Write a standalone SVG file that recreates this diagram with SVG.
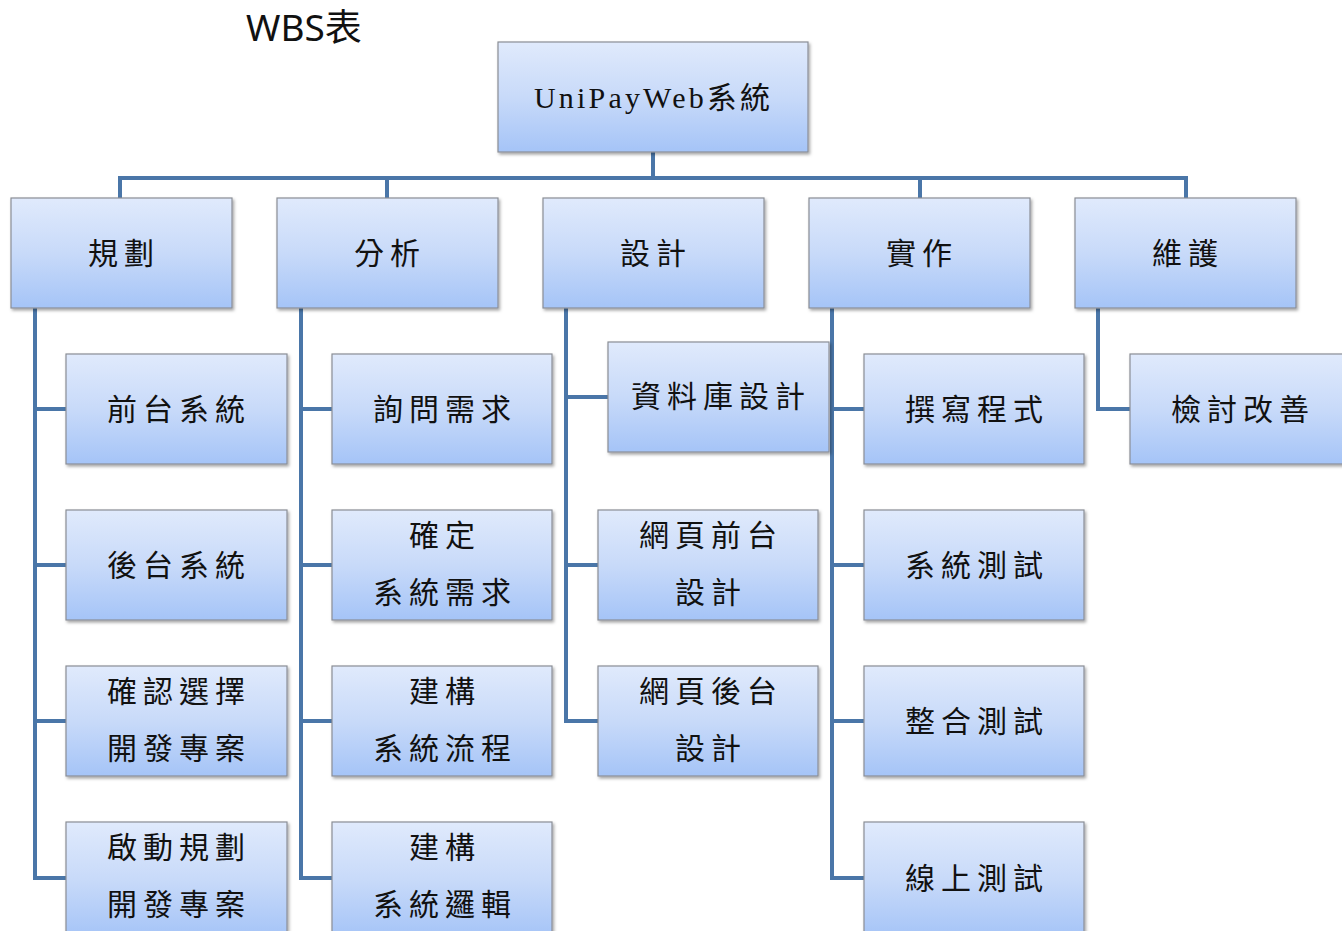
<svg xmlns="http://www.w3.org/2000/svg" width="1342" height="931" viewBox="0 0 1342 931">
<defs>
<linearGradient id="g" x1="0" y1="0" x2="0" y2="1">
<stop offset="0" stop-color="#e0eafc"/>
<stop offset="0.5" stop-color="#c8daf9"/>
<stop offset="1" stop-color="#a5c4f7"/>
</linearGradient>
<filter id="sh" x="-5%" y="-5%" width="115%" height="120%">
<feDropShadow dx="1.5" dy="2" stdDeviation="1.5" flood-color="#000" flood-opacity="0.35"/>
</filter>
<style>
.box{fill:url(#g);stroke:#8a8e96;stroke-width:1.2;filter:url(#sh)}
.t{font-family:"Liberation Serif","Noto Sans CJK TC",serif;font-size:30px;fill:#111;text-anchor:middle;dominant-baseline:central;letter-spacing:6px}
.c{fill:none;stroke:#4a76a8;stroke-width:4}
</style>
</defs>
<text x="246" y="41" font-family="'Noto Sans','Noto Sans CJK TC',sans-serif" font-size="37" fill="#111">WBS表</text>
<g id="connectors">
<path class="c" d="M653 152V178M120 198V178H1186V198M387 178V198M920 178V198"/>
<path class="c" d="M35 308V878H66M35 409H66M35 565H66M35 721H66"/>
<path class="c" d="M301 308V878H332M301 409H332M301 565H332M301 721H332"/>
<path class="c" d="M566 308V721H598M566 397H608M566 565H598"/>
<path class="c" d="M832 308V878H864M832 409H864M832 565H864M832 721H864"/>
<path class="c" d="M1098 308V409H1130"/>
</g>
<g id="root"><rect class="box" x="498" y="42" width="310" height="110"/><text class="t" x="652" y="97" textLength="236" lengthAdjust="spacing" style="letter-spacing:0">UniPayWeb系統</text></g>
<g id="n1"><rect class="box" x="11" y="198" width="221" height="110"/><text class="t" x="124" y="253">規劃</text></g>
<g id="n2"><rect class="box" x="277" y="198" width="221" height="110"/><text class="t" x="390" y="253">分析</text></g>
<g id="n3"><rect class="box" x="543" y="198" width="221" height="110"/><text class="t" x="656" y="253">設計</text></g>
<g id="n4"><rect class="box" x="809" y="198" width="221" height="110"/><text class="t" x="922" y="253">實作</text></g>
<g id="n5"><rect class="box" x="1075" y="198" width="221" height="110"/><text class="t" x="1188" y="253">維護</text></g>
<g id="n1a"><rect class="box" x="66" y="354" width="221" height="110"/><text class="t" x="179" y="409">前台系統</text></g>
<g id="n1b"><rect class="box" x="66" y="510" width="221" height="110"/><text class="t" x="179" y="565">後台系統</text></g>
<g id="n1c"><rect class="box" x="66" y="666" width="221" height="110"/><text class="t" x="179" y="691">確認選擇</text><text class="t" x="179" y="748">開發專案</text></g>
<g id="n1d"><rect class="box" x="66" y="822" width="221" height="115"/><text class="t" x="179" y="847">啟動規劃</text><text class="t" x="179" y="904">開發專案</text></g>
<g id="n2a"><rect class="box" x="332" y="354" width="220" height="110"/><text class="t" x="445" y="409">詢問需求</text></g>
<g id="n2b"><rect class="box" x="332" y="510" width="220" height="110"/><text class="t" x="445" y="535">確定</text><text class="t" x="445" y="592">系統需求</text></g>
<g id="n2c"><rect class="box" x="332" y="666" width="220" height="110"/><text class="t" x="445" y="691">建構</text><text class="t" x="445" y="748">系統流程</text></g>
<g id="n2d"><rect class="box" x="332" y="822" width="220" height="115"/><text class="t" x="445" y="847">建構</text><text class="t" x="445" y="904">系統邏輯</text></g>
<g id="n3a"><rect class="box" x="608" y="342" width="221" height="110"/><text class="t" x="721" y="396">資料庫設計</text></g>
<g id="n3b"><rect class="box" x="598" y="510" width="220" height="110"/><text class="t" x="711" y="535">網頁前台</text><text class="t" x="711" y="592">設計</text></g>
<g id="n3c"><rect class="box" x="598" y="666" width="220" height="110"/><text class="t" x="711" y="691">網頁後台</text><text class="t" x="711" y="748">設計</text></g>
<g id="n4a"><rect class="box" x="864" y="354" width="220" height="110"/><text class="t" x="977" y="409">撰寫程式</text></g>
<g id="n4b"><rect class="box" x="864" y="510" width="220" height="110"/><text class="t" x="977" y="565">系統測試</text></g>
<g id="n4c"><rect class="box" x="864" y="666" width="220" height="110"/><text class="t" x="977" y="721">整合測試</text></g>
<g id="n4d"><rect class="box" x="864" y="822" width="220" height="115"/><text class="t" x="977" y="878">線上測試</text></g>
<g id="n5a"><rect class="box" x="1130" y="354" width="220" height="110"/><text class="t" x="1243" y="409">檢討改善</text></g>
</svg>
